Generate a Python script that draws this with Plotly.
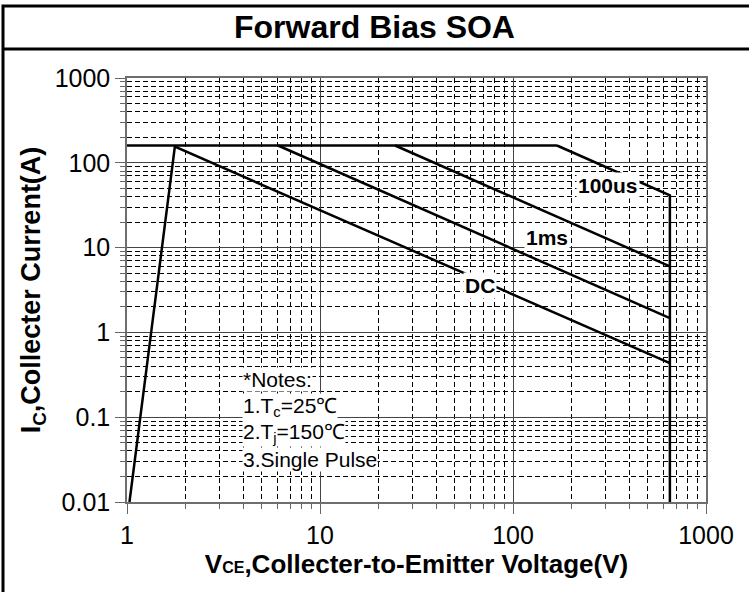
import plotly.graph_objects as go

# ---- data ----
x_ticks = [1, 10, 100, 1000]
x_ticktext = ["1", "10", "100", "1000"]
y_ticks = [0.01, 0.1, 1, 10, 100, 1000]
y_ticktext = ["0.01", "0.1", "1", "10", "100", "1000"]

# current limit (horizontal)
limit_v = [1, 169]
limit_i = [160, 160]
# 100us pulse boundary (incl. voltage limit line)
us100_v = [169, 650, 650]
us100_i = [160, 41.3, 0.01]
# 1ms boundary
ms1_v = [24.5, 650]
ms1_i = [160, 6.0]
# next boundary (unlabeled)
ms10_v = [6.06, 650]
ms10_i = [160, 1.47]
# DC boundary
dc_v = [1.03, 1.77, 650]
dc_i = [0.01, 155, 0.434]

series = [
    (limit_v, limit_i),
    (us100_v, us100_i),
    (ms1_v, ms1_i),
    (ms10_v, ms10_i),
    (dc_v, dc_i),
]

FONT = "Arial, Liberation Sans, sans-serif"

fig = go.Figure()
for v, i in series:
    fig.add_trace(go.Scatter(x=v, y=i, mode="lines",
                             line=dict(color="black", width=2.5),
                             showlegend=False, hoverinfo="skip"))

# curve labels (with white background to break the lines)
labels = [("100us", 2.492, 1.734), ("1ms", 2.176, 1.121), ("DC", 1.829, 0.556)]
for txt, lx, ly in labels:
    fig.add_annotation(x=lx, y=ly, text="<b>%s</b>" % txt, showarrow=False,
                       font=dict(family=FONT, size=21, color="black"),
                       bgcolor="white", borderpad=1, xanchor="center", yanchor="middle")

notes = ["*Notes:", "1.T<sub>c</sub>=25℃", "2.T<sub>j</sub>=150℃", "3.Single Pulse"]
notes_y = [-0.551, -0.881, -1.187, -1.493]
for txt, ny in zip(notes, notes_y):
    fig.add_annotation(x=0.596, y=ny, text=txt, showarrow=False,
                       font=dict(family=FONT, size=21, color="black"),
                       bgcolor="white", borderpad=0, xanchor="left", yanchor="middle")

minor_common = dict(ticks="outside", ticklen=5, tickcolor="#666", showgrid=True,
                    gridcolor="black", gridwidth=1, griddash="5px,3px", dtick="D1")

fig.update_xaxes(type="log", range=[0, 3], tickvals=x_ticks, ticktext=x_ticktext,
                 showline=True, linecolor="#6e6e6e", linewidth=1.5, mirror=True,
                 ticks="outside", ticklen=10, tickcolor="#666",
                 showgrid=True, gridcolor="#444", gridwidth=1,
                 tickfont=dict(family=FONT, size=25, color="black"),
                 minor=minor_common, zeroline=False,
                 title=dict(text="<b>V<span style='font-size:16px'>CE</span>,Collecter-to-Emitter Voltage(V)</b>",
                            font=dict(family=FONT, size=26, color="black"), standoff=6))
fig.update_yaxes(type="log", range=[-2, 3], tickvals=y_ticks, ticktext=y_ticktext,
                 showline=True, linecolor="#6e6e6e", linewidth=1.5, mirror=True,
                 ticks="outside", ticklen=10, tickcolor="#666",
                 showgrid=True, gridcolor="#444", gridwidth=1,
                 tickfont=dict(family=FONT, size=25, color="black"),
                 minor=minor_common, zeroline=False,
                 title=dict(text="<b>I<sub>C</sub>,Collecter Current(A)</b>",
                            font=dict(family=FONT, size=27, color="black"), standoff=6))

# outer frame and title separator (paper coords relative to plot area 127..706 x 78..502)
W, H = 749, 592
L, R, T, B = 127, 43, 78, 90
pw, ph = W - L - R, H - T - B
def px(xp):
    return (xp - L) / pw
def py(yp):
    return (H - B - yp) / ph

fig.add_shape(type="rect", xref="paper", yref="paper",
              x0=px(3), x1=px(760), y0=py(600), y1=py(6),
              line=dict(color="black", width=3), layer="above")
fig.add_shape(type="line", xref="paper", yref="paper",
              x0=px(3), x1=px(760), y0=py(49), y1=py(49),
              line=dict(color="black", width=3), layer="above")

fig.update_layout(
    width=W, height=H,
    margin=dict(l=L, r=R, t=T, b=B, autoexpand=False),
    paper_bgcolor="white", plot_bgcolor="white",
    title=dict(text="<b>Forward Bias SOA</b>", x=0.5, xanchor="center",
               y=1 - 27 / H, yanchor="middle",
               font=dict(family=FONT, size=32, color="black")),
    font=dict(family=FONT, color="black"),
)

fig.write_html("out.html", config={"displayModeBar": False},
               post_script="document.body.style.margin='0';")
